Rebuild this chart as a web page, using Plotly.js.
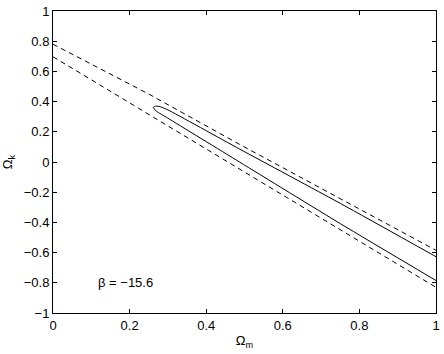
<!DOCTYPE html>
<html>
<head>
<meta charset="utf-8">
<script src="https://cdn.plot.ly/plotly-3.0.1.min.js"></script>
<style>html,body{margin:0;padding:0;background:#fff;}#chart{width:444px;height:354px;}</style>
</head>
<body>
<div id="chart"></div>
<script>
// Dashed bounding lines
const dashUpperX = [0, 0.25, 0.487, 1];
const dashUpperY = [0.78, 0.45, 0.117, -0.585];
const dashLowerX = [0, 0.495, 1];
const dashLowerY = [0.697, -0.06, -0.83];
// Closed contour (open at the right edge)
const contourX = [1.0, 0.75, 0.487, 0.30, 0.28, 0.268, 0.262, 0.265, 0.27, 0.30, 0.487, 0.75, 1.0];
const contourY = [-0.627, -0.274, 0.086, 0.345, 0.366, 0.37, 0.362, 0.35, 0.336, 0.29, 0.0, -0.408, -0.785];
// Ticks
const xTicks = [0, 0.2, 0.4, 0.6, 0.8, 1];
const xTickText = ["0", "0.2", "0.4", "0.6", "0.8", "1"];
const yTicks = [-1, -0.8, -0.6, -0.4, -0.2, 0, 0.2, 0.4, 0.6, 0.8, 1];
const yTickText = ["\u22121", "\u22120.8", "\u22120.6", "\u22120.4", "\u22120.2", "0", "0.2", "0.4", "0.6", "0.8", "1"];
const annotationText = "\u03b2 = \u221215.6";

const font = {family: "Liberation Sans, Arial, sans-serif", size: 13, color: "#000"};
const traces = [
  {x: dashUpperX, y: dashUpperY, mode: "lines", line: {color: "#000", width: 1, dash: "5px,4px"}, hoverinfo: "skip"},
  {x: dashLowerX, y: dashLowerY, mode: "lines", line: {color: "#000", width: 1, dash: "5px,4px"}, hoverinfo: "skip"},
  {x: contourX, y: contourY, mode: "lines", line: {color: "#000", width: 1, shape: "spline", smoothing: 0.6}, hoverinfo: "skip"}
];
const axisCommon = {
  showgrid: false, zeroline: false, showline: true, linecolor: "#000", linewidth: 1,
  mirror: "ticks", ticks: "inside", ticklen: 4, tickcolor: "#000", tickfont: font
};
const layout = {
  width: 444, height: 354,
  margin: {l: 53, r: 8, t: 11, b: 41},
  paper_bgcolor: "#fff", plot_bgcolor: "#fff",
  showlegend: false,
  font: font,
  xaxis: Object.assign({}, axisCommon, {
    range: [0, 1], tickvals: xTicks, ticktext: xTickText,
    title: {text: "\u03a9<sub>m</sub>", font: font, standoff: 4}
  }),
  yaxis: Object.assign({}, axisCommon, {
    range: [-1, 1], tickvals: yTicks, ticktext: yTickText,
    title: {text: "\u03a9<sub>k</sub>", font: font, standoff: 8}
  }),
  annotations: [{x: 0.112, y: -0.8, xref: "x", yref: "y", text: annotationText, showarrow: false, xanchor: "left", yanchor: "middle", font: font}]
};
Plotly.newPlot("chart", traces, layout, {staticPlot: true, displayModeBar: false});
</script>
</body>
</html>
